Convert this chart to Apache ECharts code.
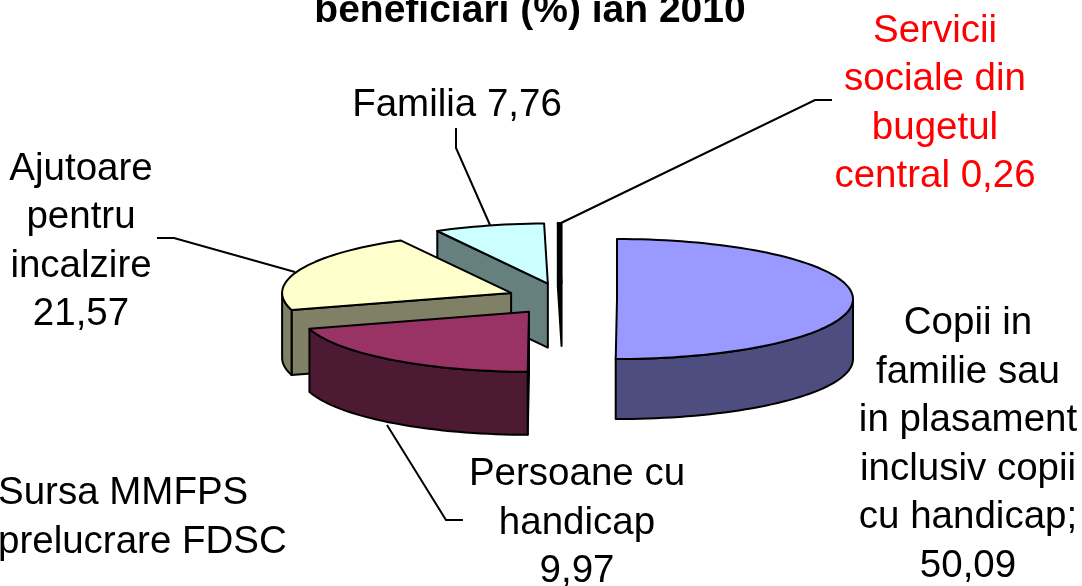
<!DOCTYPE html>
<html style="height: 100%">
<head>
    <meta charset="utf-8">
</head>
<body style="height: 100%; margin: 0; background: #fff">
<div id="container" style="width: 1082px; height: 586px"></div>
<script type="text/javascript" src="https://cdn.jsdelivr.net/npm/echarts@6/dist/echarts.min.js"></script>
<script type="text/javascript">
    var categories = ['Copii', 'Persoane cu handicap', 'Ajutoare pentru incalzire', 'Familia', 'Servicii sociale'];
    // wedge sizes as drawn; the handicap wedge is drawn about 20% although its label says 9,97
    var sliceValues = [50.09, 20.32, 21.57, 7.76, 0.26];
    var labelTexts = [
        'Copii in\nfamilie sau\nin plasament\ninclusiv copii\ncu handicap;\n50,09',
        'Persoane cu\nhandicap\n9,97',
        'Ajutoare\npentru\nincalzire\n21,57',
        'Familia 7,76',
        'Servicii\nsociale din\nbugetul\ncentral 0,26'
    ];
    var topColors = ['#9999FF', '#993366', '#FFFFCC', '#CCFFFF', '#000000'];
    var sideColors = ['#4D4D80', '#4D1A33', '#808066', '#668080', '#000000'];

    var FONT = '"Liberation Sans", Arial, sans-serif';
    var cx = 562, cy = 299;      // pie centre before the explosion
    var rxRight = 236, rxLeft = 229, ry = 60;
    var explodeX = 55, explodeY = 16;
    var depths = [60, 63, 65, 64, 63];

    var total = sliceValues.reduce(function (a, b) { return a + b; }, 0);

    function startAngle(i) {
        var sum = 0;
        for (var k = 0; k < i; k++) sum += sliceValues[k];
        return sum / total * 360;
    }

    function rimPoint(a, deg, dy) {
        var t = deg * Math.PI / 180;
        var s = Math.sin(t);
        return [a[0] + (s > 0 ? rxRight : rxLeft) * s, a[1] - ry * Math.cos(t) + dy];
    }

    function arcPoints(a, from, to, dy) {
        var pts = [];
        var n = Math.max(2, Math.ceil(Math.abs(to - from) / 2));
        for (var i = 0; i <= n; i++) {
            pts.push(rimPoint(a, from + (to - from) * i / n, dy));
        }
        return pts;
    }

    function renderSlice(params, api) {
        var i = params.dataIndex;
        var depth = depths[i];
        var a0 = startAngle(i);
        var a1 = a0 + api.value(0) / total * 360;
        var mid = (a0 + a1) / 2 * Math.PI / 180;
        var apex = [cx + explodeX * Math.sin(mid), cy - explodeY * Math.cos(mid)];
        var base = Math.round((1 - Math.cos(mid)) * 100) * 10;
        var line = { stroke: '#000', lineWidth: 2, lineJoin: 'round' };
        var children = [];

        function poly(points, fill, z) {
            children.push({
                type: 'polygon',
                z2: base + z,
                shape: { points: points },
                style: Object.assign({ fill: fill }, line)
            });
        }

        // cut faces that turn towards the viewer
        if (Math.sin(a1 * Math.PI / 180) > 0.001 || -Math.sin(a0 * Math.PI / 180) > 0.001) {
            var deg = -Math.sin(a0 * Math.PI / 180) > 0.001 ? a0 : a1;
            var rim = rimPoint(apex, deg, 0);
            poly([apex, rim, [rim[0], rim[1] + depth], [apex[0], apex[1] + depth]], sideColors[i], 0);
        }
        // outer wall, front half of the ellipse only
        var wallFrom = Math.max(a0, 90), wallTo = Math.min(a1, 270);
        if (wallTo > wallFrom) {
            var upper = arcPoints(apex, wallFrom, wallTo, 0);
            var lower = arcPoints(apex, wallFrom, wallTo, depth).reverse();
            poly(upper.concat(lower), sideColors[i], 1);
        }
        // top surface
        poly([apex].concat(arcPoints(apex, a0, a1, 0)), topColors[i], 2);

        return { type: 'group', children: children };
    }

    function textEl(text, x, y, align, color, weight) {
        return {
            type: 'text',
            x: x,
            y: y,
            z: 20,
            style: {
                text: text,
                fill: color || '#000',
                font: (weight ? weight + ' 39px ' : 'normal 38.5px ') + FONT,
                lineHeight: 48.5,
                align: align || 'center',
                verticalAlign: 'middle'
            }
        };
    }

    function leader(points) {
        return {
            type: 'polyline',
            z: 10,
            shape: { points: points },
            style: { stroke: '#000', lineWidth: 2, fill: null }
        };
    }

    var option = {
        backgroundColor: '#fff',
        animation: false,
        series: [{
            type: 'custom',
            coordinateSystem: 'none',
            silent: true,
            renderItem: renderSlice,
            data: sliceValues.map(function (v, i) {
                return { name: categories[i], value: [v] };
            })
        }],
        graphic: {
            elements: [
                leader([[832, 100], [815, 100], [561, 223]]),
                leader([[456, 128], [456, 148], [490, 225]]),
                leader([[157, 238], [174, 238], [295, 272]]),
                leader([[387, 425], [446, 520], [463, 520]]),
                textEl('beneficiari (%) ian 2010', 530, 11, 'center', '#000', 'bold'),
                textEl(labelTexts[3], 457, 105),
                textEl(labelTexts[4], 935, 104, 'center', '#FF0000'),
                textEl(labelTexts[2], 81, 242),
                textEl(labelTexts[0], 968, 445),
                textEl(labelTexts[1], 577, 523),
                textEl('Sursa MMFPS\nprelucrare FDSC', -2, 518, 'left')
            ]
        }
    };

    var dom = document.getElementById('container');
    var myChart = echarts.init(dom);
    myChart.setOption(option);
</script>
</body>
</html>
